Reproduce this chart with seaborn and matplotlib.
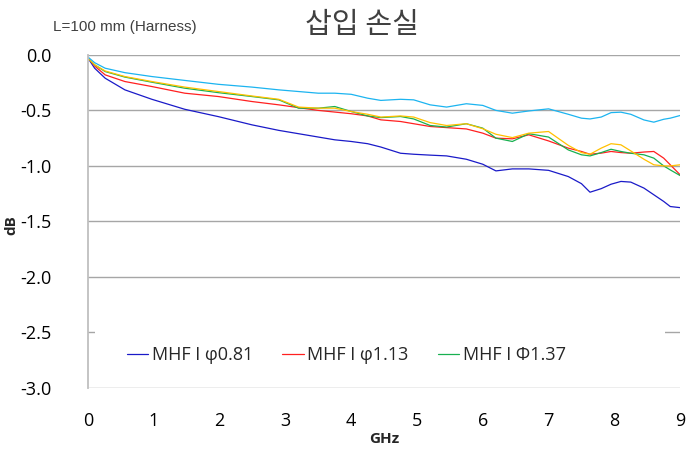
#!/usr/bin/env python3
# -*- coding: utf-8 -*-

"""
Insertion loss chart (삽입 손실) of MHF cables, L=100 mm harness.
"""

import matplotlib
matplotlib.use('Agg')
import matplotlib.pyplot as plt
from matplotlib.patches import Rectangle
import seaborn as sns

# frequency points (GHz)
freq = [0, 0.1, 0.26, 0.56, 0.97, 1.47, 1.98, 2.49, 2.9, 3.2, 3.5, 3.75, 4.0,
        4.25, 4.45, 4.75, 4.95, 5.2, 5.45, 5.75, 6.0, 6.2, 6.45, 6.7, 7.0,
        7.3, 7.5, 7.63, 7.8, 7.95, 8.1, 8.25, 8.45, 8.6, 8.75, 8.85, 9.0]

# insertion loss (dB)
loss_081 = [-0.03, -0.12, -0.21, -0.315, -0.40, -0.49, -0.556, -0.63, -0.68,
            -0.71, -0.74, -0.765, -0.78, -0.80, -0.83, -0.886, -0.895, -0.903,
            -0.91, -0.94, -0.985, -1.045, -1.027, -1.027, -1.04, -1.096, -1.16,
            -1.237, -1.205, -1.165, -1.14, -1.146, -1.20, -1.26, -1.32, -1.366,
            -1.376]
loss_113 = [-0.03, -0.10, -0.18, -0.24, -0.285, -0.345, -0.375, -0.42, -0.45,
            -0.475, -0.50, -0.515, -0.53, -0.55, -0.585, -0.60, -0.62, -0.645,
            -0.655, -0.667, -0.705, -0.75, -0.756, -0.72, -0.775, -0.84, -0.87,
            -0.895, -0.885, -0.87, -0.88, -0.886, -0.875, -0.87, -0.93, -0.99,
            -1.08]
loss_137 = [-0.03, -0.09, -0.15, -0.20, -0.246, -0.30, -0.34, -0.375, -0.405,
            -0.48, -0.48, -0.465, -0.51, -0.55, -0.565, -0.555, -0.577, -0.636,
            -0.65, -0.62, -0.66, -0.75, -0.78, -0.71, -0.74, -0.856, -0.90,
            -0.91, -0.88, -0.85, -0.87, -0.886, -0.90, -0.93, -1.0, -1.036,
            -1.087]
loss_yellow = [-0.03, -0.09, -0.145, -0.195, -0.24, -0.29, -0.33, -0.37, -0.40,
               -0.47, -0.48, -0.48, -0.51, -0.535, -0.56, -0.55, -0.56, -0.61,
               -0.636, -0.62, -0.665, -0.715, -0.745, -0.705, -0.69, -0.815,
               -0.88, -0.895, -0.84, -0.80, -0.81, -0.865, -0.94, -0.99, -1.0,
               -1.0, -0.99]
loss_cyan = [-0.02, -0.07, -0.12, -0.16, -0.195, -0.23, -0.265, -0.29, -0.315,
             -0.33, -0.345, -0.345, -0.355, -0.39, -0.41, -0.40, -0.405, -0.45,
             -0.47, -0.44, -0.455, -0.50, -0.525, -0.505, -0.486, -0.535, -0.57,
             -0.577, -0.56, -0.52, -0.516, -0.535, -0.586, -0.606, -0.58, -0.57,
             -0.546]

series = [loss_081, loss_113, loss_137, loss_yellow, loss_cyan]
labels = ['MHF I φ0.81', 'MHF I φ1.13', 'MHF I Φ1.37', None, None]
colors = ['#1a1ac8', '#ff2020', '#18b050', '#ffc000', '#1cb4f0']

yticks = [0.0, -0.5, -1.0, -1.5, -2.0, -2.5, -3.0]
xticks = list(range(10))

sns.set_theme(style='white')
plt.rcParams['font.family'] = ['Open Sans', 'DejaVu Sans']

fig = plt.figure(figsize=(6.99, 4.5), dpi=100)
ax = fig.add_axes([0.126, 0.138, 0.847, 0.740])

for vals, lab, col in zip(series, labels, colors):
    sns.lineplot(x=freq, y=vals, color=col, linewidth=0.9, label=lab,
                 legend=False, ax=ax)

ax.set_xlim(0, 9)
ax.set_ylim(-3, 0)
ax.set_xticks(xticks)
ax.set_yticks(yticks)
ax.set_yticklabels([f'{v:.1f}' for v in yticks])
ax.tick_params(axis='both', length=0, labelsize=13, colors='black')
ax.tick_params(axis='y', pad=26)
ax.tick_params(axis='x', pad=17)

ax.set_axisbelow(True)
ax.yaxis.grid(True, color='#a6a6a6', linewidth=1.0)
ax.xaxis.grid(False)
for side in ['top', 'right', 'bottom']:
    ax.spines[side].set_visible(False)
ax.spines['left'].set_color('#bfbfbf')
ax.spines['left'].set_linewidth(1.3)

ax.set_xlabel('GHz', fontsize=11, fontweight='bold', labelpad=2)
ax.set_ylabel('dB', fontsize=11, fontweight='bold')
ax.yaxis.set_label_coords(-0.118, 0.49)

# white band behind the legend hides the -2.5 gridline
ax.add_patch(Rectangle((0.012, 0.01), 0.962, 0.185, transform=ax.transAxes,
                       facecolor='white', edgecolor='none', zorder=1))
ax.legend(handles=ax.lines[:3], loc='center', bbox_to_anchor=(0.436, 0.099),
          ncol=3, frameon=False, fontsize=13, handlelength=1.2,
          handletextpad=0.2, columnspacing=1.6)

fig.text(0.518, 0.944, '삽입 손실', ha='center', va='center', fontsize=21,
         color='#404040', family=['Noto Sans CJK KR', 'DejaVu Sans'])
fig.text(0.179, 0.94, 'L=100 mm (Harness)', ha='center', va='center',
         fontsize=11, color='#404040', family=['Liberation Sans'])

fig.savefig('out.png', dpi=100)
